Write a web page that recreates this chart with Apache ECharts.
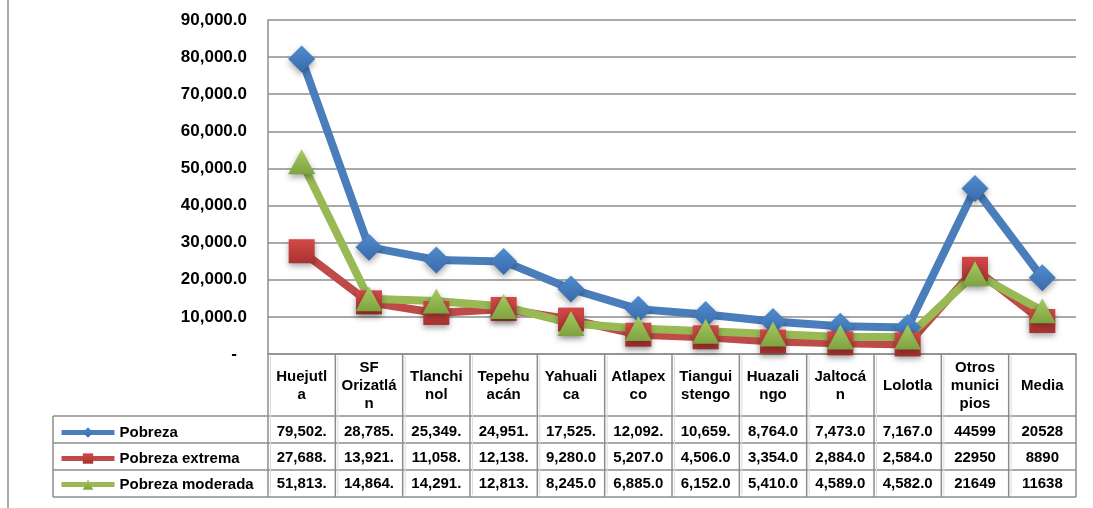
<!DOCTYPE html>
<html><head><meta charset="utf-8">
<script src="https://cdn.jsdelivr.net/npm/echarts@6/dist/echarts.min.js"></script>
<style>html,body{margin:0;padding:0;background:#fff}#c{width:1093px;height:508px}</style>
</head><body><div id="c"></div>
<script>
// ---- data ----
const categories = ['Huejutla', 'SF Orizatlán', 'Tlanchinol', 'Tepehuacán', 'Yahualica', 'Atlapexco',
  'Tianguistengo', 'Huazalingo', 'Jaltocán', 'Lolotla', 'Otros municipios', 'Media'];
const headerLabels = ['Huejutl\na', 'SF\nOrizatlá\nn', 'Tlanchi\nnol', 'Tepehu\nacán', 'Yahuali\nca', 'Atlapex\nco',
  'Tiangui\nstengo', 'Huazali\nngo', 'Jaltocá\nn', 'Lolotla', 'Otros\nmunici\npios', 'Media'];
const seriesNames = ['Pobreza', 'Pobreza extrema', 'Pobreza moderada'];
const pobreza = [79502, 28785, 25349, 24951, 17525, 12092, 10659, 8764, 7473, 7167, 44599, 20528];
const pobrezaExtrema = [27688, 13921, 11058, 12138, 9280, 5207, 4506, 3354, 2884, 2584, 22950, 8890];
const pobrezaModerada = [51813, 14864, 14291, 12813, 8245, 6885, 6152, 5410, 4589, 4582, 21649, 11638];
const yMin = 0, yMax = 90000, yStep = 10000;

// ---- helpers ----
const FONT = '"Liberation Sans", Arial, sans-serif';
function commas(v) { return String(v).replace(/\B(?=(\d{3})+(?!\d))/g, ','); }
function fmtOne(v) { return commas(v) + '.0'; }
// cell text as shown in the table (narrow columns cut the text)
function cellText(v, i) { return i < 10 ? fmtOne(v).slice(0, 7) : String(v); }

const chart = echarts.init(document.getElementById('c'), null, { renderer: 'canvas' });

function grad(a, b) {
  return new echarts.graphic.LinearGradient(0, 0, 0, 1, [{ offset: 0, color: a }, { offset: 1, color: b }]);
}
function mk(name, data, color, symbol, size, g) {
  return {
    name, type: 'line', data, symbol, symbolSize: size,
    lineStyle: { color, width: 8 },
    itemStyle: { color: grad(g[0], g[1]), shadowBlur: 6, shadowColor: 'rgba(0,0,0,0.35)', shadowOffsetY: 3 },
    emphasis: { disabled: true }, animation: false
  };
}
const lineColors = ['#4A7EBB', '#BE4B48', '#98B954'];

const option = {
  backgroundColor: '#fff',
  animation: false,
  grid: { left: 268, right: 17, top: 20, bottom: 154, containLabel: false },
  legend: [0, 1, 2].map(k => ({
    data: [seriesNames[k]], orient: 'vertical', left: 59, top: [425, 451, 477][k], padding: 0,
    itemWidth: 53, itemHeight: 13, selectedMode: false,
    lineStyle: { width: 5, color: lineColors[k] },
    itemStyle: { shadowBlur: 0, shadowOffsetY: 0 },
    textStyle: { fontFamily: FONT, fontWeight: 'bold', fontSize: 15, color: '#000', lineHeight: 14 }
  })),
  xAxis: {
    type: 'category', data: categories, boundaryGap: true,
    axisLine: { show: true, lineStyle: { color: '#8c8c8c', width: 1.5 } },
    axisTick: { show: false },
    splitLine: { show: false },
    axisLabel: {
      interval: 0, formatter: (v, i) => headerLabels[i], fontFamily: FONT, fontWeight: 'bold',
      fontSize: 15, lineHeight: 18, color: '#000', margin: 32, verticalAlign: 'middle', align: 'center'
    }
  },
  yAxis: {
    type: 'value', min: yMin, max: yMax, interval: yStep,
    axisLine: { show: true, lineStyle: { color: '#8c8c8c', width: 1.5 } },
    axisTick: { show: false },
    splitLine: { show: true, lineStyle: { color: '#8c8c8c', width: 1.5 } },
    axisLabel: {
      margin: 21, fontFamily: FONT, fontWeight: 'bold', fontSize: 17, color: '#000',
      formatter: v => v === 0 ? '{d|-}' : fmtOne(v),
      rich: { d: { fontFamily: FONT, fontWeight: 'bold', fontSize: 17, color: '#000', padding: [0, 10, 0, 0] } }
    }
  },
  series: [
    mk(seriesNames[0], pobreza, lineColors[0], 'diamond', 27, ['#4f8cd0', '#3a6aa8']),
    mk(seriesNames[1], pobrezaExtrema, lineColors[1], 'rect', [26, 24], ['#d24a47', '#a8322f']),
    mk(seriesNames[2], pobrezaModerada, lineColors[2], 'triangle', [27, 25], ['#a6c963', '#7ea33e'])
  ]
};
chart.setOption(option);

// ---- data table under the plot ----
const n = categories.length;
const xs = categories.map((c, i) => chart.convertToPixel({ xAxisIndex: 0 }, i));
const band = xs[1] - xs[0];
const tLeft = xs[0] - band / 2, tRight = xs[n - 1] + band / 2;
const yAxisPx = chart.convertToPixel({ yAxisIndex: 0 }, 0);
const rows = [416, 443, 470, 497];
const legendLeft = 53;
const lineC = '#8c8c8c';
const els = [];
function ln(x1, y1, x2, y2, c, w) {
  els.push({ type: 'line', shape: { x1, y1, x2, y2 }, style: { stroke: c || lineC, lineWidth: w || 1.5 }, silent: true, z: 1 });
}
// frame line at the far left
ln(8, 0, 8, 508, '#8c8c8c', 1.5);
// horizontal row lines
rows.forEach(y => ln(legendLeft, y, tRight, y));
// vertical column lines
for (let i = 0; i <= n; i++) {
  const x = tLeft + i * band;
  ln(x, yAxisPx, x, rows[3]);
  if (i < n) ln(x + 2.5, yAxisPx + 2, x + 2.5, rows[3] - 2, '#dcdcdc', 1);
}
ln(legendLeft, rows[0], legendLeft, rows[3]);
// cell texts
const allSeries = [pobreza, pobrezaExtrema, pobrezaModerada];
const rowCenters = [432, 458, 484];
allSeries.forEach((arr, r) => {
  arr.forEach((v, i) => {
    els.push({
      type: 'text', silent: true, z: 2,
      style: { text: cellText(v, i), x: xs[i], y: rowCenters[r], align: 'center', verticalAlign: 'middle',
        font: 'bold 15px ' + FONT, fill: '#000' }
    });
  });
});
chart.setOption({ graphic: { elements: els } });
</script>
</body></html>
